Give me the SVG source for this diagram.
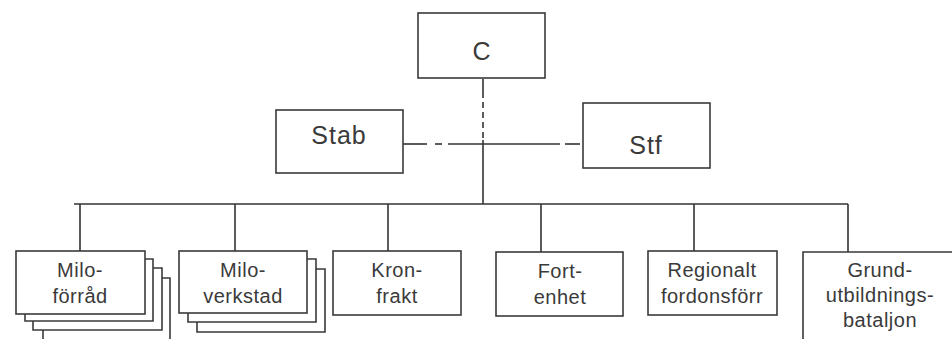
<svg xmlns="http://www.w3.org/2000/svg" width="952" height="339" viewBox="0 0 952 339">
<style>
.box{fill:#fff;stroke:#3a3a3a;stroke-width:1.6}
.stk{fill:none;stroke:#3a3a3a;stroke-width:1.6}
.ln{fill:none;stroke:#333;stroke-width:1.6}
.t{font-family:"Liberation Sans",Arial,sans-serif;fill:#3a3a3a;text-anchor:middle}
.big{font-size:25px;letter-spacing:1px}
.sm{font-size:20px;letter-spacing:0.5px}
</style>
<rect width="952" height="339" fill="#fff"/>
<g id="connectors">
<line class="ln" x1="483" y1="79" x2="483" y2="98" stroke-width="2"/>
<line class="ln" x1="483" y1="102" x2="483" y2="140" stroke-dasharray="6 4" stroke-width="1.3"/>
<line class="ln" x1="483" y1="140" x2="483" y2="204"/>
<line class="ln" x1="403" y1="144" x2="427" y2="144" stroke-width="2.2"/>
<line class="ln" x1="435" y1="144" x2="442" y2="144" stroke-width="1.8"/>
<line class="ln" x1="448" y1="144" x2="560" y2="144" stroke-width="2.2"/>
<line class="ln" x1="565" y1="144" x2="580" y2="144" stroke-width="1.6"/>
<line class="ln" x1="74" y1="204" x2="848" y2="204"/>
<line class="ln" x1="80" y1="204" x2="80" y2="251"/>
<line class="ln" x1="235" y1="204" x2="235" y2="251"/>
<line class="ln" x1="388" y1="204" x2="388" y2="251"/>
<line class="ln" x1="541" y1="204" x2="541" y2="252"/>
<line class="ln" x1="694" y1="204" x2="694" y2="251"/>
<line class="ln" x1="848" y1="204" x2="848" y2="252"/>
</g>
<g id="node-c">
<rect class="box" x="418" y="13" width="127" height="65"/>
<text class="t big" x="482" y="60">C</text>
</g>
<g id="node-stab">
<rect class="box" x="276" y="110" width="127" height="63"/>
<text class="t big" x="339" y="144">Stab</text>
</g>
<g id="node-stf">
<rect class="box" x="583" y="103" width="127" height="65"/>
<text class="t big" x="646" y="154">Stf</text>
</g>
<g id="node-miloforrad">
<polyline class="stk" points="145,259 153,259 153,321 25,321 25,314"/>
<polyline class="stk" points="153,268 162,268 162,330 33,330 33,321"/>
<polyline class="stk" points="162,278 170,278 170,339"/>
<polyline class="stk" points="43,330 43,339"/>
<rect class="box" x="16" y="251" width="129" height="63"/>
<text class="t sm" x="80" y="277">Milo-</text>
<text class="t sm" x="80" y="303">förråd</text>
</g>
<g id="node-miloverkstad">
<polyline class="stk" points="307,259 316,259 316,322 188,322 188,313"/>
<polyline class="stk" points="316,269 325,269 325,332 197,332 197,322"/>
<rect class="box" x="179" y="251" width="128" height="62"/>
<text class="t sm" x="243" y="277">Milo-</text>
<text class="t sm" x="243" y="303">verkstad</text>
</g>
<g id="node-kronfrakt">
<rect class="box" x="333" y="251" width="128" height="64"/>
<text class="t sm" x="397" y="277">Kron-</text>
<text class="t sm" x="397" y="303">frakt</text>
</g>
<g id="node-fortenhet">
<rect class="box" x="496" y="252" width="127" height="64"/>
<text class="t sm" x="560" y="278">Fort-</text>
<text class="t sm" x="560" y="304">enhet</text>
</g>
<g id="node-regionalt">
<rect class="box" x="648" y="251" width="129" height="64"/>
<text class="t sm" x="712" y="277">Regionalt</text>
<text class="t sm" x="712" y="303">fordonsförr</text>
</g>
<g id="node-grund">
<polyline class="stk" points="803,345 803,252 960,252"/>
<text class="t sm" x="880" y="277">Grund-</text>
<text class="t sm" x="880" y="302">utbildnings-</text>
<text class="t sm" x="880" y="327">bataljon</text>
</g>
</svg>
